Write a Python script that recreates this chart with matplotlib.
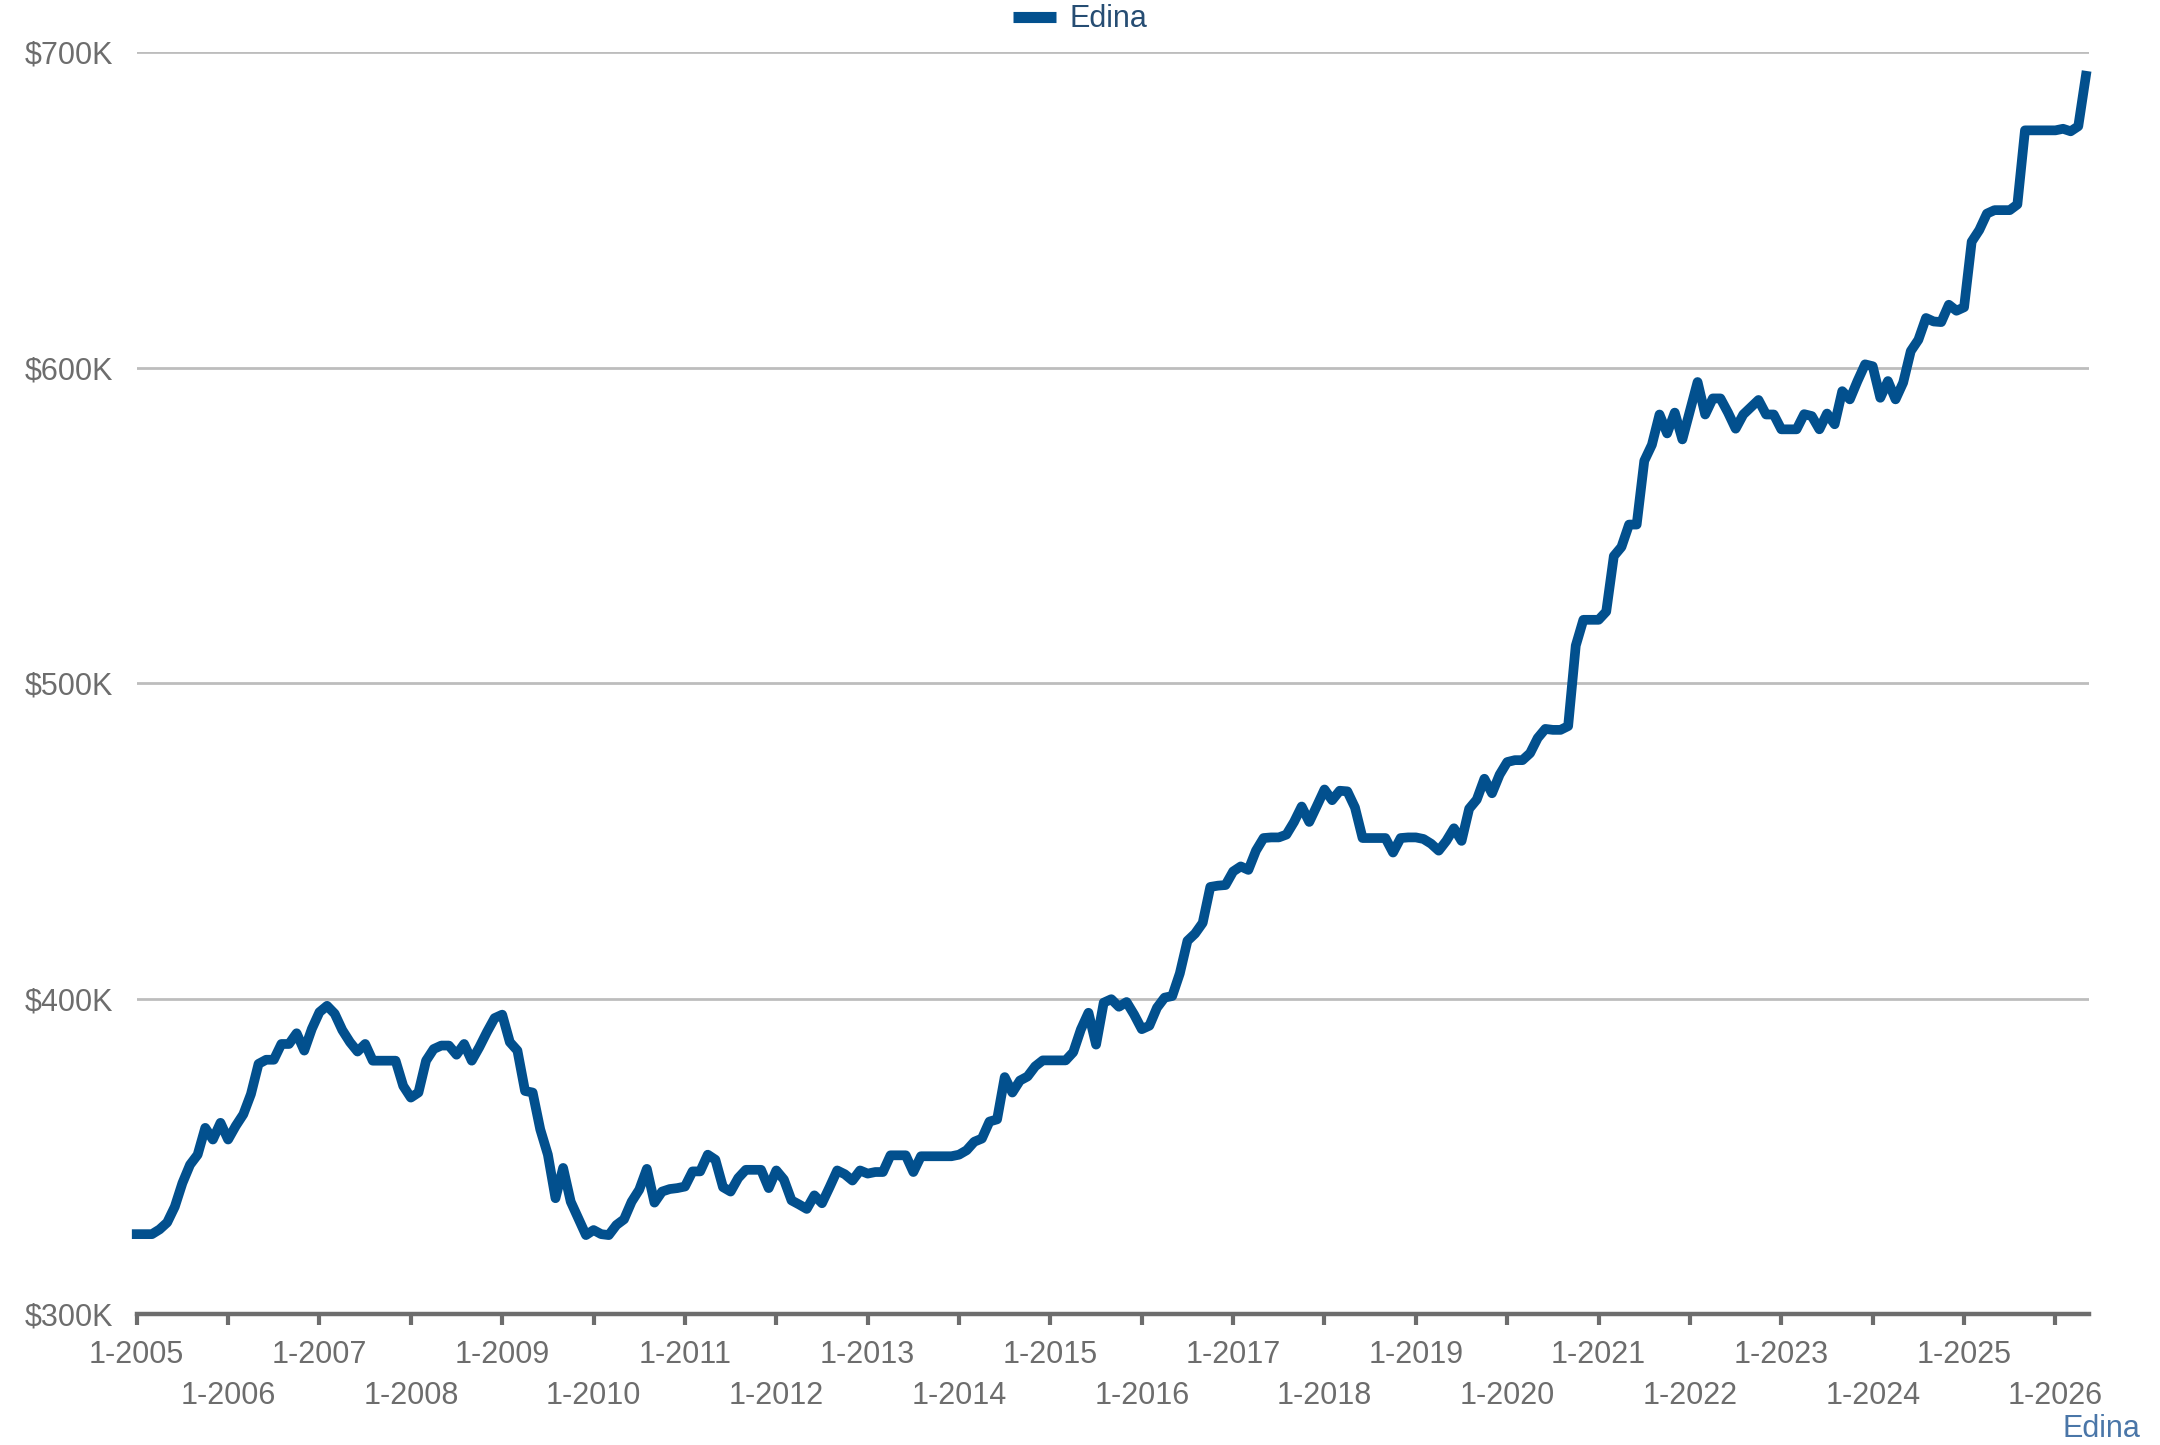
import matplotlib

matplotlib.use("Agg")
import matplotlib.pyplot as plt
from matplotlib.lines import Line2D
from matplotlib.ticker import FuncFormatter

# monthly median sale price, Jan 2005 .. May 2026, in $K
START_YEAR = 2005
PRICE_K = [
    325.3, 325.3, 325.3, 326.8, 329.0, 334.0, 341.5, 347.3, 350.5, 359.0, 355.3, 360.6,
    355.3, 359.6, 363.3, 369.7, 379.3, 380.6, 380.6, 385.6, 385.6, 389.0, 383.5, 390.4,
    395.7, 397.7, 395.2, 390.0, 386.2, 383.2, 385.6, 380.3, 380.3, 380.3, 380.3, 372.3,
    368.6, 370.2, 380.3, 384.0, 385.1, 385.1, 382.2, 385.6, 380.3, 384.6, 389.4, 393.8,
    394.9, 386.2, 383.5, 370.7, 370.2, 358.5, 350.5, 336.7, 346.3, 335.6, 330.3, 325.0,
    326.6, 325.3, 325.0, 328.2, 330.0, 335.6, 339.4, 346.0, 335.3, 338.8, 339.6, 339.9,
    340.4, 345.2, 345.2, 350.5, 348.9, 340.2, 338.8, 343.1, 345.7, 345.7, 345.7, 339.9,
    345.5, 342.6, 336.0, 334.7, 333.3, 337.6, 335.1, 340.2, 345.5, 344.3, 342.3, 345.5,
    344.5, 345.0, 345.0, 350.3, 350.3, 350.3, 345.0, 350.0, 350.0, 350.0, 350.0, 350.0,
    350.5, 351.9, 354.6, 355.6, 361.0, 361.7, 375.1, 370.2, 374.0, 375.3, 378.5, 380.4,
    380.4, 380.4, 380.4, 383.0, 390.2, 395.5, 385.4, 398.7, 399.8, 397.4, 398.9, 394.9,
    390.3, 391.4, 397.1, 400.3, 400.8, 408.0, 418.3, 420.6, 424.0, 435.4, 435.8, 436.0,
    440.3, 441.9, 440.8, 446.9, 450.9, 451.1, 451.1, 452.0, 456.0, 460.9, 456.0, 461.1,
    466.3, 462.9, 465.9, 465.7, 460.6, 450.9, 450.9, 450.9, 450.9, 446.3, 450.9, 451.1,
    451.1, 450.6, 449.1, 446.9, 450.0, 454.0, 450.0, 460.2, 463.1, 469.7, 465.1, 471.0,
    475.0, 475.6, 475.6, 477.8, 482.6, 485.5, 485.2, 485.2, 486.4, 511.9, 520.1, 520.1,
    520.1, 522.7, 540.3, 543.2, 550.3, 550.3, 570.5, 575.6, 585.2, 579.2, 585.8, 577.3,
    586.4, 595.5, 585.2, 590.3, 590.3, 585.8, 580.7, 585.2, 587.5, 589.8, 585.2, 585.2,
    580.5, 580.5, 580.5, 585.3, 584.7, 580.5, 585.5, 582.1, 592.6, 590.0, 595.8, 601.1,
    600.5, 590.5, 595.8, 590.0, 595.3, 605.3, 608.9, 615.8, 614.7, 614.5, 620.0, 618.1,
    619.2, 640.0, 643.7, 648.9, 650.0, 650.0, 650.0, 651.8, 675.3, 675.3, 675.3, 675.3,
    675.3, 675.8, 675.0, 676.6, 692.6,
]
YEARS = list(range(2005, 2027))
Y_TICKS = [300000, 400000, 500000, 600000, 700000]

LINE_BLUE = "#02508e"
GREY = "#6d6d6d"

plt.rcParams["font.family"] = ["Liberation Sans", "DejaVu Sans"]

fig = plt.figure(figsize=(21.6, 14.45), dpi=100)
ax = fig.add_axes([0.0633, 0.0907, 0.9038, 0.873])

x = list(range(len(PRICE_K)))
y = [v * 1000 for v in PRICE_K]
ax.plot(x, y, color=LINE_BLUE, lw=7, clip_on=False, zorder=3)

ax.set_xlim(0, 256.4)
ax.set_ylim(300000, 700000)

# y axis: dollar labels, horizontal grid, no spine
ax.set_yticks(Y_TICKS)
ax.yaxis.set_major_formatter(FuncFormatter(lambda v, _: f"${v/1000:.0f}K"))
ax.tick_params(axis="y", length=0, pad=17, labelsize=22, labelcolor=GREY)
ax.grid(True, axis="y", color="#bdbdbd", lw=2.0)
ax.set_axisbelow(True)
for s in ("top", "right", "left"):
    ax.spines[s].set_visible(False)
ax.spines["bottom"].set_color(GREY)
ax.spines["bottom"].set_linewidth(3.2)

# x axis: yearly ticks, labels staggered over two rows
pos = [(yr - START_YEAR) * 12 for yr in YEARS]
labels = [f"1-{yr}" for yr in YEARS]
ax.set_xticks(pos[0::2], labels[0::2])
ax.set_xticks(pos[1::2], labels[1::2], minor=True)
ax.tick_params(axis="x", which="both", length=8, width=3, color=GREY,
               labelsize=22, labelcolor=GREY)
ax.tick_params(axis="x", which="major", pad=11)
ax.tick_params(axis="x", which="minor", pad=40)

handle = Line2D([], [], color=LINE_BLUE, lw=8, solid_capstyle="butt")
fig.legend([handle], ["Edina"], loc="center", bbox_to_anchor=(0.5, 0.9866),
           frameon=False, fontsize=22, handlelength=1.4, handletextpad=0.45,
           labelcolor="#264d73")

fig.text(0.991, 0.011, "Edina", ha="right", va="center", fontsize=22,
         color="#4a76a8")

fig.savefig("out.png", dpi=100)
